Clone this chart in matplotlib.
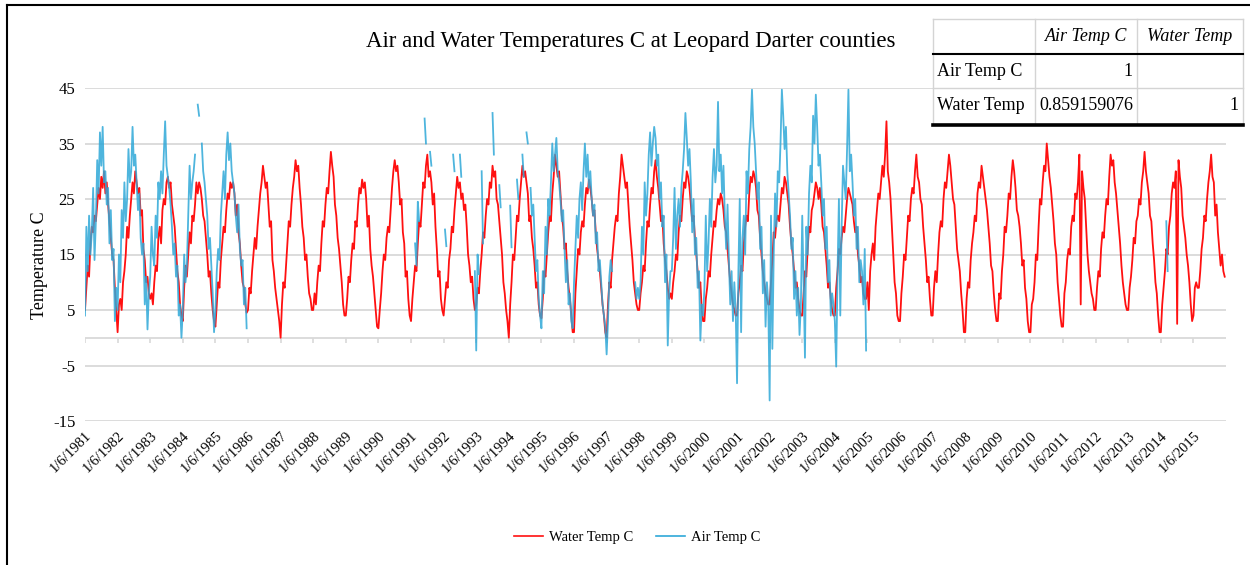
import matplotlib
matplotlib.use("Agg")
import matplotlib.pyplot as plt
from matplotlib.patches import Rectangle
from matplotlib.lines import Line2D
import numpy as np
import pandas as pd

plt.rcParams['font.family'] = ['Liberation Serif', 'DejaVu Serif']
plt.rcParams['axes.unicode_minus'] = False

nan = float('nan')

# Datos (24 lecturas por año, desde 1/6/1981)
anios = list(range(1981, 2016))
etiquetas = ["1/6/%d" % a for a in anios]
lecturas_por_anio = 24

water = [
    5, 9, 13, 11, 17, 20, 19, 22, 21, 24, 27, 25, 29, 27, 30, 26, 28, 24, 21, 18, 15, 14, 9, 5,            # 1981
    1, 6, 7, 5, 10, 12, 15, 20, 18, 22, 25, 28, 26, 30, 28, 26, 27, 22, 23, 16, 14, 10, 11, 8,             # 1982
    7, 8, 6, 10, 13, 12, 18, 20, 17, 23, 25, 24, 28, 29, 27, 28, 24, 22, 20, 16, 12, 10, 6, 4,             # 1983
    3, 9, 13, 11, 15, 19, 17, 22, 21, 24, 28, 26, 28, 27, 25, 22, 21, 18, 15, 11, 12, 8, 5, 3,             # 1984
    2, 6, 10, 9, 14, 17, 20, 19, 23, 26, 25, 28, 27, 28, 26, 22, 24, 19, 17, 13, 10, 9, 6, 4.5,            # 1985
    5, 9, 8, 12, 15, 18, 16, 20, 23, 26, 28, 31, 29, 27, 28, 24, 20, 21, 14, 12, 9, 7, 5, 3,               # 1986
    0, 6, 10, 9, 13, 17, 21, 20, 24, 27, 29, 32, 30, 31, 27, 24, 20, 18, 14, 15, 11, 8, 7, 5,              # 1987
    5, 8, 6, 10, 13, 12, 17, 21, 20, 24, 27, 26, 30, 33.5, 31, 29, 24, 22, 18, 16, 13, 10, 6, 4,           # 1988
    4, 7, 11, 10, 14, 17, 16, 21, 20, 24, 27, 26, 28.5, 27, 28, 25, 20, 22, 16, 13, 11, 8, 5, 2,           # 1989
    1.7, 5, 8, 12, 15, 14, 18, 20, 19, 23, 27, 30, 32, 30, 31, 28, 24, 25, 19, 17, 11, 12, 7, 4,           # 1990
    3, 7, 10, 13, 12, 17, 21, 20, 24, 28, 27, 31, 33, 29, 30, 28, 24, 26, 20, 16, 11, 12, 7, 5,            # 1991
    4, 7, 10, 9, 14, 16, 20, 19, 23, 26, 29, 27, 28, 25, 26, 23, 24, 20, 15, 13, 10, 11, 7, 5,             # 1992
    6, 9, 8, 12, 15, 19, 18, 22, 25, 24, 28, 27, 31, 29, 30, 25, 24, 21, 18, 15, 10, 8, 5, 3,              # 1993
    0, 6, 10, 15, 14, 18, 22, 21, 25, 28, 31, 29, 30, 28, 26, 21, 22, 18, 16, 13, 9, 10, 6, 4,             # 1994
    3.5, 7, 12, 11, 15, 19, 22, 21, 26, 29, 33, 31, 29, 30, 26, 22, 20, 16, 17, 12, 9, 7, 4, 1,            # 1995
    1, 8, 12, 16, 15, 19, 21, 20, 24, 27, 26, 28.5, 27, 25, 22, 23, 19, 16, 14, 12, 9, 6, 4, 1,            # 1996
    0, 6, 10, 9, 14, 17, 20, 22, 21, 26, 29, 33, 31, 29, 27, 28, 24, 20, 17, 14, 10, 8, 6, 5,              # 1997
    5, 8, 10, 13, 12, 17, 21, 20, 24, 27, 26, 30, 32, 29, 27, 24, 21, 22, 17, 14, 12, 9, 7, 8,             # 1998
    7, 10, 12, 15, 14, 19, 22, 21, 25, 28, 27, 30, 29, 27, 24, 21, 22, 18, 15, 12, 9, 10, 5, 3,            # 1999
    3, 7, 9, 12, 11, 15, 18, 21, 20, 23, 25, 24, 26, 25, 23, 20, 19, 16, 13, 10, 8, 6, 5, 4,               # 2000
    4, 8, 10, 13, 12, 17, 20, 22, 21, 26, 29, 28, 30, 29, 27, 23, 22, 18, 15, 12, 10, 8, 7, 6,             # 2001
    6, 10, 14, 19, 18, 21, 22, 21, 24, 27, 26, 29, 28, 26, 24, 20, 17, 15, 12, 9, 10, 7, 5, 4,             # 2002
    4, 8, 12, 11, 16, 20, 19, 23, 24, 26, 28, 27, 25, 27, 24, 20, 19, 16, 13, 9, 10, 7, 5, 4,              # 2003
    4, 9, 12, 16, 15, 18, 20, 19, 22, 25, 27, 26, 25, 24, 21, 19, 20, 15, 13, 10, 11, 8, 7, 7,             # 2004
    10, 5, 12, 15, 17, 14, 20, 23, 26, 25, 28, 31, 29, 33, 39, 30, 28, 25, 20, 15, 10, 8, 4, 3,            # 2005
    3, 8, 11, 15, 14, 18, 22, 21, 25, 27, 26, 30, 33, 29, 28, 25, 24, 20, 17, 14, 10, 11, 7, 4,            # 2006
    4, 9, 12, 10, 15, 19, 21, 20, 25, 28, 27, 30, 33, 31, 28, 25, 24, 20, 16, 14, 12, 8, 5, 1,             # 2007
    1, 7, 10, 9, 14, 17, 19, 22, 21, 26, 28, 27, 31, 29, 27, 25, 23, 20, 17, 13, 12, 8, 5, 3,              # 2008
    3, 8, 7, 12, 15, 20, 19, 22, 26, 25, 29, 32, 30, 27, 23, 22, 20, 17, 13, 14, 9, 7, 3, 1,               # 2009
    1, 6, 7, 10, 15, 14, 20, 25, 24, 28, 31, 30, 35, 32, 29, 27, 24, 21, 17, 15, 10, 7, 4, 2,              # 2010
    2, 8, 10, 14, 16, 15, 20, 22, 21, 26, 25, 28, 33, 6, 30, 27, 25, 20, 15, 12, 10, 8, 7, 5,              # 2011
    5, 9, 12, 11, 16, 19, 18, 22, 25, 24, 29, 33, 31, 32, 28, 26, 23, 20, 17, 13, 10, 8, 6, 5,             # 2012
    5, 9, 11, 14, 18, 17, 21, 22, 25, 24, 28, 30, 33.5, 30, 28, 26, 22, 21, 17, 14, 10, 8, 4, 1,           # 2013
    1, 6, 9, 12, 16, 15, 20, 22, 26, 28, 27, 30, 2.5, 32, 29, 27, 22, 20, 18, 15, 13, 10, 6, 3,            # 2014
    4, 9, 10, 9, 9, 12, 16, 18, 22, 21, 25, 28, 30, 33, 29, 28, 22, 24, 19, 16, 13, 15, 12, 11,            # 2015
]

air = [
    4, 20, 12, 22, 15, 19, 27, 14, 21, 32, 26, 37, 31, 38, 28, 30, 24, 27, 17, 23, 14, 16, 3, 9,           # 1981
    5, 15, 10, 23, 18, 28, 21, 25, 34, 28, 30, 38, 31, 33, 28, 23, 26, 18, 15, 17, 6, 11, 1.5, 8,          # 1982
    11, 20, 15, 13, 22, 18, 28, 25, 30, 26, 33, 39, 31, 29, 27, 24, 20, 15, 17, 11, 13, 4, 6, 0,           # 1983
    5, 15, 10, 13, 22, 31, 25, 28, 30, 33, nan, 42, 40, nan, 35, 30, 28, 25, 22, 16, 18, 13, 8, 1,         # 1984
    5, 12, 16, 14, 22, 26, 30, 25, 33, 37, 32, 35, 30, 28, 26, 22, 19, 24, 16, 13, 14, 6, 9, 1.7,          # 1985
] + [nan] * 24 * 5 + [                                                                                     # 1986-1990
    nan, nan, nan, 17, 13, 24.5, 21, nan, nan, nan, 39.5, 35, nan, nan, 33.5, 31, nan, nan, nan, nan, nan, nan, nan, nan,  # 1991
    nan, 19.5, 16.5, nan, nan, nan, nan, 33, 30, nan, nan, nan, 33, 29, nan, nan, nan, nan, nan, nan, nan, nan, nan, 12,  # 1992
    -2.3, 15, 11.5, nan, 30, 17, nan, nan, nan, nan, nan, nan, 40.5, 33, nan, nan, nan, 27.5, 23.5, nan, nan, nan, nan, nan,  # 1993
    nan, 23.8, 16.3, nan, nan, nan, 28.5, 25, nan, nan, 33, 29, nan, 37, 35, nan, 27, 22, 24, 18, 12, 14, 7, 4,  # 1994
    1.7, 12, 8, 20, 15, 25, 22, 28, 35, 30, 33, 36, 30, 28, 25, 21, 23, 16, 10, 14, 6, 8, 3, 1.7,          # 1995
    10, 16, 22, 18, 25, 28, 23, 30, 35, 29, 33, 27, 30, 25, 22, 24, 17, 19, 12, 14, 10, 6, 4, 2,           # 1996
    -3, 3, 11, 14, 12, nan, nan, nan, nan, nan, nan, nan, nan, nan, nan, nan, nan, nan, nan, nan, nan, 10, 7, 9,  # 1997
    7, 10, 20, 15, 28, 22, 26, 33, 37, 31, 35, 38, 36, 31, 33, 25, 28, 20, 22, 10, 15, -1.4, 8, 12,        # 1998
    12, 18, 27, 16, 22, 25, 20, 27, 30, 34, 40.5, 36, 31, 34, 28, 19, 25, 15, 18, 9, 12, -0.5, 6, 4,       # 1999
    9, 22, 12, 17, 25, 20, 29, 34, 28, 31, 42.5, 30, 33, 26, 31, 22, 16, 24, 14, 6, 12, 3, 10, 5,          # 2000
    -8.2, 12, 25, 1, 18, 22, 15, 30, 26, 34, 38, 44.7, 38, 35, 30, 25, 28, 16, 20, 8, 14, 2, 10, 6,        # 2001
    -11.3, 22, -2, 15, 26, 20, 30, 28, 35, 44.7, 40, 34, 38, 30, 26, 22, 16, 18, 7, 12, 4, 9, 0.5, 6,      # 2002
    22, 10, -3.6, 20, 15, 26, 31, 28, 40, 35, 43.8, 38, 31, 33, 28, 22, 25, 16, 20, 10, 14, 4, 8, 6,       # 2003
    3, -5.2, 12, 25, 4, 20, 31, 28, 25, 34, 44.7, 30, 33, 28, 22, 25, 16, 20, 10, 14, 12, 6, 16, -2.3,     # 2004
] + [nan] * 24 * 9 + [                                                                                     # 2005-2013
    nan, nan, nan, nan, 21, 12, nan, nan, nan, nan, nan, nan, nan, nan, nan, nan, nan, nan, nan, nan, nan, nan, nan, nan,  # 2014
] + [nan] * 24                                                                                             # 2015

# Tabla de correlacion
tabla_cols = ["", "Air Temp C", "Water Temp"]
tabla_filas = [["Air Temp C", "1", ""],
               ["Water Temp", "0.859159076", "1"]]

W, H = 1250, 565
def fx(x):
    return x / W
def fy(y):
    return 1 - y / H

inicio = pd.Timestamp("1981-01-06")
fechas = inicio + pd.to_timedelta(np.arange(len(water)) * 365.25 / lecturas_por_anio, unit="D")
fechas_ticks = pd.to_datetime(["%d-01-06" % a for a in anios])

fig = plt.figure(figsize=(12.5, 5.65), dpi=100)
ax = fig.add_axes([fx(85), fy(421), fx(1226) - fx(85), fy(88) - fy(421)])

rojo = "#FF1010"
azul = "#2FA8D8"
ax.plot(fechas, water, color=rojo, lw=1.3, zorder=3)
ax.plot(fechas, np.array(air, dtype=float), color=azul, lw=1.3, alpha=0.85, zorder=4)

ax.set_ylim(-15, 45)
ax.set_xlim(inicio, pd.Timestamp("2016-01-06"))
ax.set_yticks(range(-15, 46, 10))
ax.yaxis.grid(True, color="#D9D9D9", lw=1.3)
ax.set_axisbelow(True)
for s in ax.spines.values():
    s.set_visible(False)

# eje horizontal en cero con marcas
ax.axhline(0, color="#D9D9D9", lw=1.3, zorder=1)
ax.vlines(fechas_ticks, -0.9, 0, color="#D9D9D9", lw=1.2, zorder=1)

ax.set_xticks(fechas_ticks)
ax.set_xticklabels(etiquetas, rotation=45, ha="right", rotation_mode="anchor", fontsize=10.5)
ax.tick_params(axis="x", length=0, pad=6)
ax.tick_params(axis="y", length=0, pad=7, labelsize=12)

fig.text(fx(39), fy(265), "Temperature C", rotation=90, ha="center", va="center", fontsize=13)

fig.text(fx(631), fy(42), "Air and Water Temperatures C at Leopard Darter counties",
         ha="center", va="center", fontsize=16.5)

# leyenda
h = [Line2D([], [], color=rojo, lw=1.2), Line2D([], [], color=azul, lw=1.2)]
fig.legend(h, ["Water Temp C", "Air Temp C"], loc="center", bbox_to_anchor=(fx(637), fy(537)),
           ncol=2, frameon=False, fontsize=10.5, handlelength=2.0, columnspacing=1.6, handletextpad=0.4)

# marco exterior
fig.add_artist(Line2D([fx(7), fx(7)], [0, fy(5)], color="black", lw=1.5))
fig.add_artist(Line2D([fx(7), 1], [fy(5), fy(5)], color="black", lw=1.5))

# tabla
xs = [933, 1035, 1137, 1243]
ys = [19, 54, 88, 124]
fig.add_artist(Rectangle((fx(xs[0]), fy(ys[-1])), fx(xs[-1]) - fx(xs[0]), fy(ys[0]) - fy(ys[-1]),
                         facecolor="white", edgecolor="none", zorder=5))
gris = "#D4D4D4"
for x in xs:
    fig.add_artist(Line2D([fx(x), fx(x)], [fy(ys[0]), fy(ys[-1])], color=gris, lw=1.0, zorder=6))
for y in (ys[0], ys[2]):
    fig.add_artist(Line2D([fx(xs[0]), fx(xs[-1])], [fy(y), fy(y)], color=gris, lw=1.0, zorder=6))
fig.add_artist(Line2D([fx(xs[0]), fx(xs[-1])], [fy(ys[1]), fy(ys[1])], color="black", lw=1.5, zorder=7))
fig.add_artist(Line2D([fx(xs[0]), fx(xs[-1])], [fy(ys[3] + 1), fy(ys[3] + 1)], color="black", lw=2.6, zorder=7))

fs_tabla = 13
for j, t in enumerate(tabla_cols):
    if t:
        fig.text(fx((xs[j] + xs[j + 1]) / 2), fy((ys[0] + ys[1]) / 2), t, ha="center", va="center",
                 fontsize=fs_tabla, style="italic", zorder=8)
for i, fila in enumerate(tabla_filas):
    yc = fy((ys[i + 1] + ys[i + 2]) / 2)
    fig.text(fx(xs[0] + 4), yc, fila[0], ha="left", va="center", fontsize=fs_tabla, zorder=8)
    for j in (1, 2):
        if fila[j]:
            fig.text(fx(xs[j + 1] - 4), yc, fila[j], ha="right", va="center", fontsize=fs_tabla, zorder=8)

fig.savefig("out.png", dpi=100)
